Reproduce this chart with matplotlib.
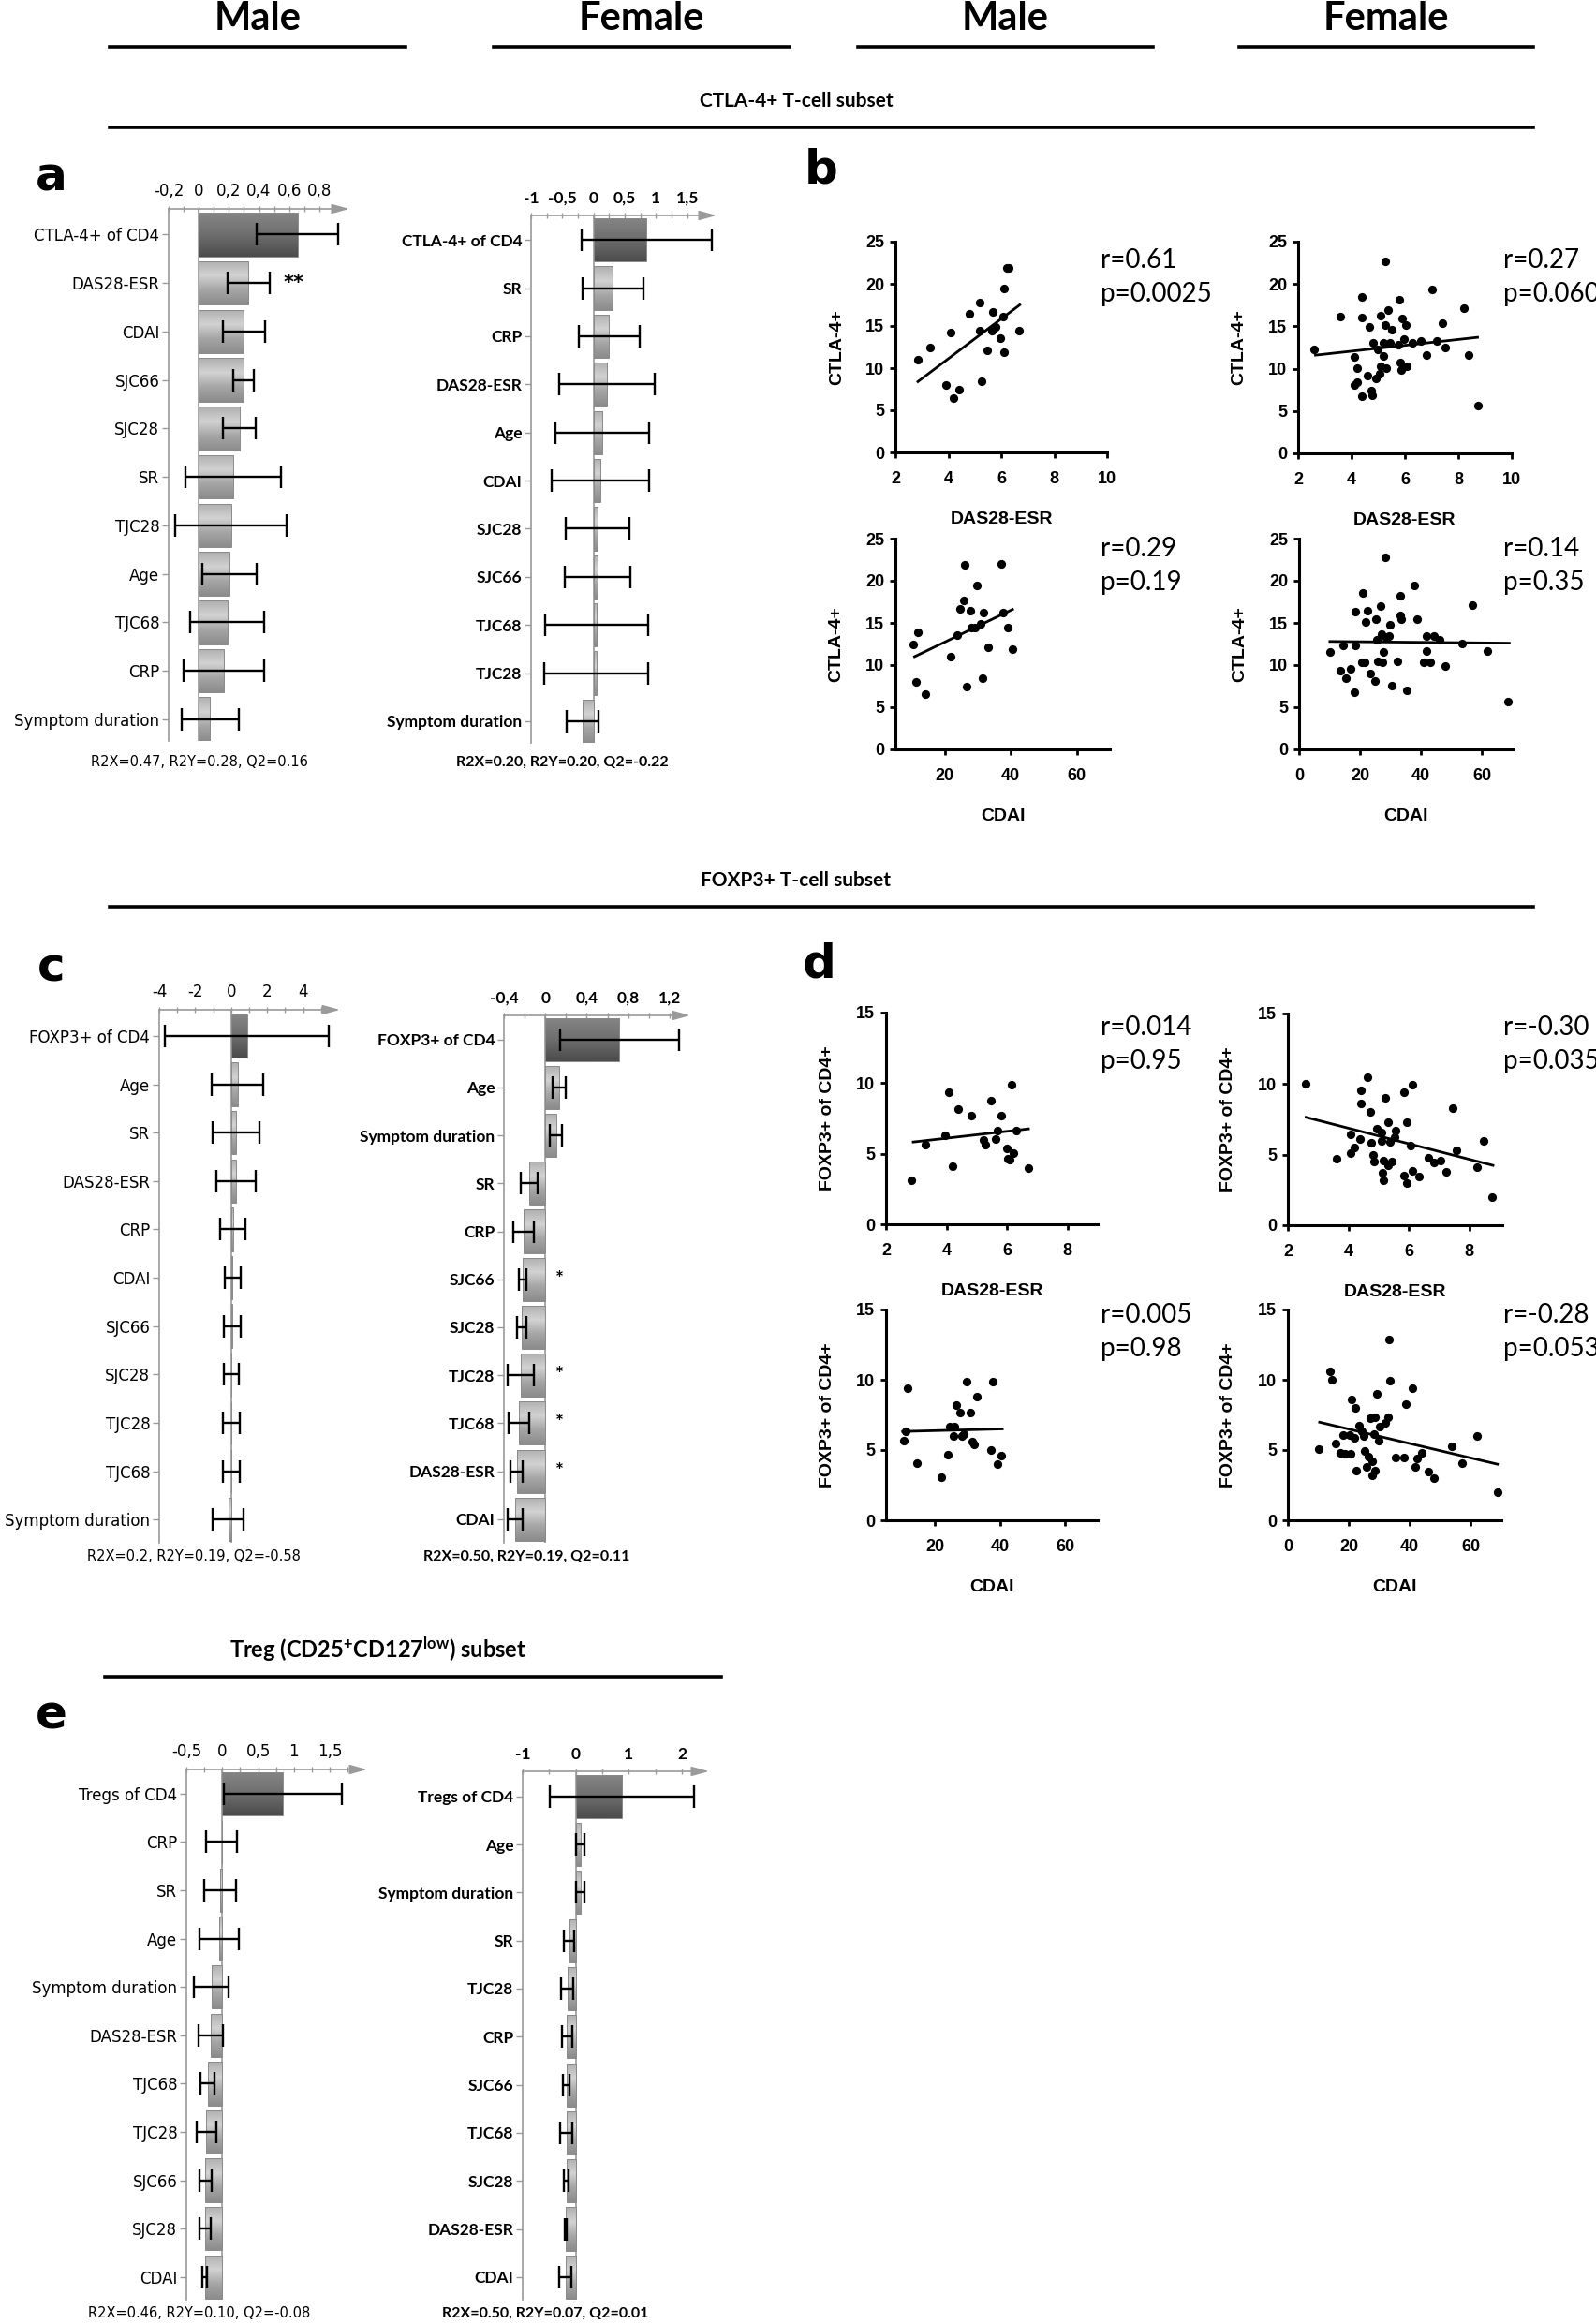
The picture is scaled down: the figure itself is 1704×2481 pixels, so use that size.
import numpy as np
import matplotlib
matplotlib.use('Agg')
import matplotlib.pyplot as plt
from matplotlib.colors import LinearSegmentedColormap
from matplotlib.lines import Line2D

W, H = 1704, 2481

# ---------------- data: PLS coefficient panels ----------------
am_labels = ['CTLA-4+ of CD4', 'DAS28-ESR', 'CDAI', 'SJC66', 'SJC28', 'SR', 'TJC28', 'Age',
             'TJC68', 'CRP', 'Symptom duration']
am_vals = [0.655, 0.33, 0.30, 0.297, 0.27, 0.229, 0.214, 0.204, 0.19, 0.167, 0.076]
am_errs = [0.27, 0.14, 0.14, 0.07, 0.11, 0.32, 0.37, 0.18, 0.245, 0.27, 0.19]

af_labels = ['CTLA-4+ of CD4', 'SR', 'CRP', 'DAS28-ESR', 'Age', 'CDAI', 'SJC28', 'SJC66',
             'TJC68', 'TJC28', 'Symptom duration']
af_vals = [0.85, 0.31, 0.25, 0.215, 0.14, 0.11, 0.065, 0.06, 0.05, 0.045, -0.175]
af_errs = [1.04, 0.49, 0.49, 0.77, 0.75, 0.775, 0.505, 0.525, 0.82, 0.83, 0.25]

cm_labels = ['FOXP3+ of CD4', 'Age', 'SR', 'DAS28-ESR', 'CRP', 'CDAI', 'SJC66', 'SJC28',
             'TJC28', 'TJC68', 'Symptom duration']
cm_vals = [0.87, 0.35, 0.28, 0.26, 0.1, 0.087, 0.05, 0.03, 0.02, 0.01, -0.16]
cm_errs = [4.56, 1.42, 1.3, 1.1, 0.7, 0.45, 0.47, 0.42, 0.46, 0.46, 0.86]

cf_labels = ['FOXP3+ of CD4', 'Age', 'Symptom duration', 'SR', 'CRP', 'SJC66', 'SJC28',
             'TJC28', 'TJC68', 'DAS28-ESR', 'CDAI']
cf_vals = [0.717, 0.133, 0.105, -0.154, -0.208, -0.223, -0.229, -0.24, -0.256, -0.277, -0.29]
cf_errs = [0.57, 0.062, 0.06, 0.08, 0.098, 0.036, 0.047, 0.128, 0.098, 0.06, 0.07]
cf_stars = [5, 7, 8, 9]

em_labels = ['Tregs of CD4', 'CRP', 'SR', 'Age', 'Symptom duration', 'DAS28-ESR', 'TJC68',
             'TJC28', 'SJC66', 'SJC28', 'CDAI']
em_vals = [0.843, -0.01, -0.026, -0.043, -0.152, -0.16, -0.204, -0.22, -0.235, -0.24, -0.243]
em_errs = [0.826, 0.217, 0.22, 0.274, 0.243, 0.165, 0.1, 0.137, 0.087, 0.076, 0.03]

ef_labels = ['Tregs of CD4', 'Age', 'Symptom duration', 'SR', 'TJC28', 'CRP', 'SJC66',
             'TJC68', 'SJC28', 'DAS28-ESR', 'CDAI']
ef_vals = [0.865, 0.088, 0.088, -0.124, -0.16, -0.165, -0.176, -0.176, -0.176, -0.194, -0.194]
ef_errs = [1.36, 0.08, 0.075, 0.1, 0.118, 0.1, 0.065, 0.11, 0.045, 0.02, 0.11]

# ---------------- data: correlation scatter panels ----------------
bm_das_x = [2.85, 3.3, 3.92, 4.08, 4.19, 4.39, 4.8, 5.18, 5.18, 5.26, 5.48, 5.63, 5.69, 5.79,
            5.98, 6.06, 6.1, 6.1, 6.21, 6.27, 6.68]
bm_das_y = [11.0, 12.4, 8.0, 14.2, 6.5, 7.4, 16.4, 17.8, 14.5, 8.4, 12.1, 14.5, 16.7, 14.9,
            13.6, 16.1, 11.9, 19.4, 21.9, 21.9, 14.5]
bm_das_fit = ([2.85, 6.7], [8.4, 17.5])

bf_das_x = [2.58, 3.58, 4.1, 4.1, 4.2, 4.2, 4.37, 4.37, 4.4, 4.6, 4.68, 4.74, 4.77, 4.81, 4.9,
            4.98, 5.06, 5.08, 5.1, 5.18, 5.2, 5.26, 5.26, 5.3, 5.36, 5.45, 5.5, 5.74, 5.8, 5.83,
            5.87, 5.9, 5.95, 6.05, 6.08, 6.28, 6.6, 6.82, 7.0, 7.2, 7.4, 7.5, 8.2, 8.4, 8.72]
bf_das_y = [12.3, 16.2, 11.4, 8.1, 10.1, 8.4, 18.5, 6.7, 16.0, 9.2, 14.9, 7.4, 6.9, 13.0, 8.9,
            12.3, 9.4, 16.3, 10.3, 13.0, 11.5, 22.7, 15.2, 10.1, 16.9, 13.0, 14.6, 12.8, 18.1, 10.7,
            9.8, 15.9, 13.5, 15.2, 10.3, 13.1, 13.3, 11.6, 19.4, 13.3, 15.4, 12.5, 17.1, 11.6, 5.6]
bf_das_fit = ([2.65, 8.72], [11.6, 13.7])

bm_cdai_x = [10.5, 11.25, 11.9, 14.2, 21.7, 23.75, 24.5, 25.6, 25.9, 26.7, 27.7, 28.1, 29.2,
             29.8, 30.8, 31.4, 31.7, 33.0, 37.0, 37.7, 39.2, 40.5]
bm_cdai_y = [12.4, 8.0, 13.9, 6.5, 11.0, 13.6, 16.7, 17.7, 21.9, 7.4, 16.4, 14.4, 14.4, 19.5,
             14.9, 8.4, 16.2, 12.1, 22.0, 16.2, 14.4, 11.9]
bm_cdai_fit = ([10.8, 40.5], [11.0, 16.6])

bf_cdai_x = [10.1, 13.4, 14.3, 15.5, 16.8, 18.0, 18.3, 18.5, 20.7, 20.8, 21.5, 21.8, 22.3, 23.2,
             24.9, 25.2, 25.5, 25.7, 26.6, 26.9, 27.2, 27.7, 28.2, 28.6, 29.4, 29.9, 30.3, 32.3,
             33.3, 33.3, 33.6, 35.3, 37.8, 38.7, 40.7, 41.7, 41.7, 42.9, 44.2, 46.2, 47.9, 53.4,
             56.8, 61.8, 68.6]
bf_cdai_y = [11.5, 9.3, 12.3, 8.4, 9.5, 6.8, 16.3, 12.3, 10.3, 18.6, 10.3, 15.1, 16.4, 9.0,
             8.1, 15.4, 13.0, 10.4, 17.0, 13.7, 10.3, 11.6, 22.8, 13.2, 13.4, 14.8, 7.5, 10.4,
             18.2, 15.9, 15.4, 7.0, 19.5, 15.4, 10.3, 13.4, 11.7, 10.3, 13.4, 13.0, 9.9, 12.6,
             17.1, 11.7, 5.7]
bf_cdai_fit = ([10.1, 68.9], [12.8, 12.6])

dm_das_x = [2.85, 3.31, 3.94, 4.09, 4.21, 4.4, 4.81, 5.22, 5.27, 5.47, 5.61, 5.69, 5.81, 6.0,
            6.03, 6.1, 6.14, 6.2, 6.31, 6.71]
dm_das_y = [3.1, 5.65, 6.32, 9.38, 4.1, 8.16, 7.69, 5.99, 5.61, 8.76, 6.05, 6.65, 7.69, 5.37,
            4.66, 4.55, 9.9, 5.03, 6.65, 3.99]
dm_das_fit = ([2.9, 6.71], [5.83, 6.76])

df_das_x = [2.6, 3.62, 4.08, 4.08, 4.21, 4.38, 4.42, 4.42, 4.64, 4.72, 4.76, 4.81, 4.84, 4.93,
            5.1, 5.1, 5.13, 5.15, 5.15, 5.23, 5.32, 5.32, 5.39, 5.44, 5.52, 5.57, 5.86, 5.86,
            5.93, 5.95, 6.05, 6.12, 6.12, 6.34, 6.66, 6.85, 7.06, 7.24, 7.45, 7.57, 8.25, 8.47,
            8.76]
df_das_y = [10.0, 4.72, 5.12, 6.43, 5.54, 6.12, 9.53, 8.6, 10.49, 8.05, 5.83, 4.99, 4.5, 6.83,
            6.54, 5.99, 3.72, 3.17, 4.61, 9.0, 7.32, 4.28, 5.94, 4.5, 6.21, 6.72, 9.45, 3.5,
            7.27, 3.0, 5.61, 3.84, 9.93, 3.46, 4.81, 4.46, 4.55, 3.79, 8.31, 5.28, 4.1, 5.99,
            2.0]
df_das_fit = ([2.6, 8.79], [7.65, 4.24])

dm_cdai_x = [10.4, 11.1, 11.7, 14.4, 22.0, 23.9, 24.7, 25.6, 25.96, 26.6, 27.7, 28.2, 28.9,
             29.7, 30.8, 31.6, 32.1, 32.9, 37.1, 37.7, 39.3, 40.5]
dm_cdai_y = [5.7, 6.32, 9.38, 4.06, 3.08, 4.7, 6.65, 5.99, 6.7, 8.2, 7.69, 5.99, 6.14, 9.9,
             7.69, 5.6, 5.39, 8.8, 4.99, 9.9, 3.99, 4.59]
dm_cdai_fit = ([10.1, 40.7], [6.32, 6.5])

df_cdai_x = [10.1, 13.8, 14.3, 15.8, 17.1, 18.0, 18.8, 20.2, 20.5, 21.0, 21.7, 22.2, 22.5,
             23.4, 24.4, 24.9, 25.2, 25.9, 26.4, 26.9, 27.6, 27.7, 28.1, 28.4, 28.6, 29.2, 29.7,
             30.1, 31.9, 32.8, 33.3, 33.6, 35.3, 38.2, 38.7, 40.7, 41.8, 42.4, 44.0, 46.2, 47.9,
             53.6, 57.0, 62.0, 68.7]
df_cdai_y = [5.06, 10.6, 9.98, 5.5, 4.81, 6.05, 4.72, 6.1, 4.72, 8.6, 5.88, 8.03, 3.55, 6.76,
             6.32, 5.99, 4.92, 3.77, 4.55, 7.25, 4.21, 3.22, 6.16, 7.32, 3.55, 8.98, 5.65, 6.65,
             6.94, 7.32, 12.86, 9.91, 4.5, 4.5, 8.27, 9.38, 3.81, 4.39, 4.81, 3.5, 2.99, 5.25,
             4.1, 5.99, 2.0]
df_cdai_fit = ([10.4, 68.7], [6.98, 3.99])

# ---------------- figure helpers ----------------
plt.rcParams['mathtext.fontset'] = 'custom'
plt.rcParams['mathtext.rm'] = 'Lato:bold'
plt.rcParams['mathtext.bf'] = 'Lato:bold'
plt.rcParams['mathtext.it'] = 'Lato:bold:italic'

fig = plt.figure(figsize=(W / 100, H / 100), dpi=100)


def px_axes(x0, y0, x1, y1):
    return fig.add_axes([x0 / W, 1 - y1 / H, (x1 - x0) / W, (y1 - y0) / H])


def ftext(x, y, s, **kw):
    fig.text(x / W, 1 - y / H, s, **kw)


def hline(x0, x1, y, lw=2.6):
    fig.add_artist(Line2D([x0 / W, x1 / W], [1 - y / H, 1 - y / H], color='black', lw=lw))


DARK = LinearSegmentedColormap.from_list('dark', ['#858585', '#6e6e6e', '#4c4c4c'])
LIGHT = LinearSegmentedColormap.from_list('light', ['#b0b0b0', '#d2d2d2', '#a6a6a6', '#8c8c8c'])
GRAD = np.linspace(0, 1, 40).reshape(-1, 1)
GREY = '#9a9a9a'


def coef_panel(box, labels, vals, errs, xlim, ylim, ticks, ticklabels, step,
               font, weight, fs, stars=(), star_x=0, star_txt='*'):
    ax = px_axes(*box)
    y = np.arange(len(labels))
    bars = ax.barh(y, vals, height=0.9, color='#b5b5b5', lw=0, zorder=2)
    for i, b in enumerate(bars):
        x0, x1 = sorted([0, vals[i]])
        im = ax.imshow(GRAD, cmap=DARK if i == 0 else LIGHT, aspect='auto',
                       extent=(x0, x1, y[i] + 0.45, y[i] - 0.45), zorder=2.5,
                       interpolation='bilinear')
        im.set_clip_path(b)
    ax.barh(y, vals, height=0.9, fill=False, edgecolor='#8a8a8a', lw=0.7, zorder=3)
    ax.errorbar(vals, y, xerr=errs, fmt='none', ecolor='black', elinewidth=1.7,
                capsize=8.5, capthick=1.7, zorder=4)
    ax.axvline(0, color=GREY, lw=1.2, zorder=1.5)
    for r in stars:
        ax.text(star_x, r, star_txt, ha='left', va='center', fontsize=15,
                fontweight='bold', family=font, zorder=5)
    ax.set_xlim(xlim)
    ax.set_ylim(ylim)
    ax.set_yticks(y, labels, family=font, fontweight=weight, fontsize=fs)
    ax.xaxis.tick_top()
    ax.set_xticks(ticks, ticklabels, family=font, fontweight=weight, fontsize=fs)
    ax.set_xticks(np.arange(xlim[0], xlim[1] - step / 2, step), minor=True)
    ax.tick_params(axis='x', which='both', direction='inout', length=5, width=1,
                   color=GREY, pad=5)
    ax.tick_params(axis='y', length=5, width=1, color=GREY, pad=2)
    for s in ['top', 'right', 'bottom']:
        ax.spines[s].set_visible(False)
    ax.spines['left'].set_color(GREY)
    ax.spines['left'].set_linewidth(1.2)
    ax.annotate('', xy=(xlim[1], ylim[1]), xytext=(xlim[0], ylim[1]),
                arrowprops=dict(arrowstyle='-|>,head_length=0.8,head_width=0.22',
                                color=GREY, lw=1.2, mutation_scale=14,
                                shrinkA=0, shrinkB=0),
                annotation_clip=False)
    return ax


def scatter_panel(box, x, y, fit, xlim, ylim, xticks, yticks, xlabel, ylabel):
    ax = px_axes(*box)
    ax.scatter(x, y, s=44, color='black', lw=0, zorder=3, clip_on=False)
    ax.plot(fit[0], fit[1], color='black', lw=2.0, zorder=2)
    ax.set_xlim(xlim)
    ax.set_ylim(ylim)
    ax.set_xticks(xticks)
    ax.set_yticks(yticks)
    for lab in ax.get_xticklabels() + ax.get_yticklabels():
        lab.set_family('Liberation Sans')
        lab.set_fontweight('bold')
        lab.set_fontsize(13)
    ax.tick_params(axis='x', direction='out', length=4.5, width=2, pad=10)
    ax.tick_params(axis='y', direction='out', length=4.5, width=2, pad=4)
    for s in ['top', 'right']:
        ax.spines[s].set_visible(False)
    for s in ['left', 'bottom']:
        ax.spines[s].set_linewidth(2.2)
    ax.set_xlabel(xlabel, family='Liberation Sans', fontweight='bold', fontsize=14)
    ax.set_ylabel(ylabel, family='Liberation Sans', fontweight='bold', fontsize=14)
    ax.xaxis.set_label_coords(0.5, -0.28)
    ax.yaxis.set_label_coords(-0.24, 0.5)
    return ax


def stat_text(x, y, r, p):
    ftext(x, y, r, ha='left', va='center', family='Lato', fontsize=20)
    ftext(x, y + 36, p, ha='left', va='center', family='Lato', fontsize=20)


# ---------------- headers ----------------
for cx, x0, x1, s in [(275, 117, 433, 'Male'), (685, 527, 843, 'Female'),
                      (1073, 916, 1231, 'Male'), (1480, 1323, 1637, 'Female')]:
    ftext(cx, 20, s, ha='center', va='center', family='Lato', fontweight='bold', fontsize=30)
    hline(x0, x1, 50)

ftext(850, 108, 'CTLA-4+ T-cell subset', ha='center', va='center', family='Lato',
      fontweight='bold', fontsize=15)
hline(117, 1637, 136)
ftext(850, 940, 'FOXP3+ T-cell subset', ha='center', va='center', family='Lato',
      fontweight='bold', fontsize=15)
hline(117, 1637, 968)
ftext(404, 1761, 'Treg (CD25$^{+}$CD127$^{\\mathrm{low}}$) subset', ha='center', va='center',
      family='Lato', fontweight='bold', fontsize=17)
hline(112, 770, 1790)

for x, y, s in [(55, 189, 'a'), (877, 182, 'b'), (55, 1034, 'c'), (875, 1030, 'd'),
                (55, 1832, 'e')]:
    ftext(x, y, s, ha='center', va='center', family='DejaVu Sans', fontweight='bold',
          fontsize=36)

# ---------------- panel a ----------------
coef_panel((180, 223, 373, 791), am_labels, am_vals, am_errs, (-0.2, 1.0), (10.45, -0.53),
           [-0.2, 0, 0.2, 0.4, 0.6, 0.8], ['-0,2', '0', '0,2', '0,4', '0,6', '0,8'], 0.1,
           'DejaVu Sans', 'normal', 12, stars=[1], star_x=0.565, star_txt='**')
ftext(213, 814, 'R2X=0.47, R2Y=0.28, Q2=0.16', ha='center', va='center',
      family='DejaVu Sans', fontsize=10.5)

coef_panel((567, 230, 765, 793), af_labels, af_vals, af_errs, (-1.0, 1.97), (10.45, -0.51),
           [-1, -0.5, 0, 0.5, 1, 1.5], ['-1', '-0,5', '0', '0,5', '1', '1,5'], 0.25,
           'Lato', 'bold', 12.5)
ftext(600, 814, 'R2X=0.20, R2Y=0.20, Q2=-0.22', ha='center', va='center',
      family='Lato', fontweight='bold', fontsize=11.5)

# ---------------- panel b ----------------
scatter_panel((956, 258, 1182, 483), bm_das_x, bm_das_y, bm_das_fit, (2, 10), (0, 25),
              [2, 4, 6, 8, 10], [0, 5, 10, 15, 20, 25], 'DAS28-ESR', 'CTLA-4+')
scatter_panel((1386, 258, 1614, 484), bf_das_x, bf_das_y, bf_das_fit, (2, 10), (0, 25),
              [2, 4, 6, 8, 10], [0, 5, 10, 15, 20, 25], 'DAS28-ESR', 'CTLA-4+')
scatter_panel((956, 575, 1185, 800), bm_cdai_x, bm_cdai_y, bm_cdai_fit, (5, 70), (0, 25),
              [20, 40, 60], [0, 5, 10, 15, 20, 25], 'CDAI', 'CTLA-4+')
scatter_panel((1387, 575, 1615, 800), bf_cdai_x, bf_cdai_y, bf_cdai_fit, (0, 70), (0, 25),
              [0, 20, 40, 60], [0, 5, 10, 15, 20, 25], 'CDAI', 'CTLA-4+')
stat_text(1175, 278, 'r=0.61', 'p=0.0025')
stat_text(1605, 278, 'r=0.27', 'p=0.060')
stat_text(1175, 586, 'r=0.29', 'p=0.19')
stat_text(1605, 586, 'r=0.14', 'p=0.35')

# ---------------- panel c ----------------
coef_panel((170, 1078, 363, 1647), cm_labels, cm_vals, cm_errs, (-4, 6.05), (10.48, -0.54),
           [-4, -2, 0, 2, 4], ['-4', '-2', '0', '2', '4'], 1,
           'DejaVu Sans', 'normal', 12)
ftext(207, 1662, 'R2X=0.2, R2Y=0.19, Q2=-0.58', ha='center', va='center',
      family='DejaVu Sans', fontsize=10.5)

coef_panel((538, 1084, 737, 1647), cf_labels, cf_vals, cf_errs, (-0.4, 1.4), (10.49, -0.5),
           [-0.4, 0, 0.4, 0.8, 1.2], ['-0,4', '0', '0,4', '0,8', '1,2'], 0.2,
           'Lato', 'bold', 12.5, stars=cf_stars, star_x=0.1)
ftext(562, 1662, 'R2X=0.50, R2Y=0.19, Q2=0.11', ha='center', va='center',
      family='Lato', fontweight='bold', fontsize=11.5)

# ---------------- panel d ----------------
scatter_panel((946, 1081, 1172, 1307), dm_das_x, dm_das_y, dm_das_fit, (2, 9), (0, 15),
              [2, 4, 6, 8], [0, 5, 10, 15], 'DAS28-ESR', 'FOXP3+ of CD4+')
scatter_panel((1375, 1082, 1604, 1308), df_das_x, df_das_y, df_das_fit, (2, 9.1), (0, 15),
              [2, 4, 6, 8], [0, 5, 10, 15], 'DAS28-ESR', 'FOXP3+ of CD4+')
scatter_panel((946, 1398, 1172, 1623), dm_cdai_x, dm_cdai_y, dm_cdai_fit, (5, 70), (0, 15),
              [20, 40, 60], [0, 5, 10, 15], 'CDAI', 'FOXP3+ of CD4+')
scatter_panel((1375, 1398, 1603, 1623), df_cdai_x, df_cdai_y, df_cdai_fit, (0, 70), (0, 15),
              [0, 20, 40, 60], [0, 5, 10, 15], 'CDAI', 'FOXP3+ of CD4+')
stat_text(1175, 1097, 'r=0.014', 'p=0.95')
stat_text(1605, 1097, 'r=-0.30', 'p=0.035')
stat_text(1175, 1404, 'r=0.005', 'p=0.98')
stat_text(1605, 1404, 'r=-0.28', 'p=0.053')

# ---------------- panel e ----------------
coef_panel((199, 1889, 392, 2455), em_labels, em_vals, em_errs, (-0.5, 2.02), (10.47, -0.5),
           [-0.5, 0, 0.5, 1, 1.5], ['-0,5', '0', '0,5', '1', '1,5'], 0.25,
           'DejaVu Sans', 'normal', 12)
ftext(213, 2470, 'R2X=0.46, R2Y=0.10, Q2=-0.08', ha='center', va='center',
      family='DejaVu Sans', fontsize=10.5)

coef_panel((558, 1891, 757, 2455), ef_labels, ef_vals, ef_errs, (-1, 2.51), (10.47, -0.52),
           [-1, 0, 1, 2], ['-1', '0', '1', '2'], 0.5,
           'Lato', 'bold', 12.5)
ftext(582, 2470, 'R2X=0.50, R2Y=0.07, Q2=0.01', ha='center', va='center',
      family='Lato', fontweight='bold', fontsize=11.5)

fig.savefig('out.png', dpi=100, facecolor='white')
